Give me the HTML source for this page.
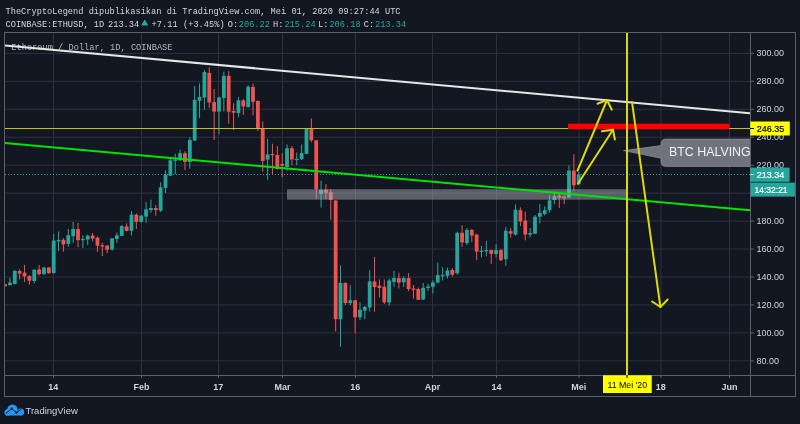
<!DOCTYPE html><html><head><meta charset="utf-8"><style>html,body{margin:0;padding:0;background:#131722;width:800px;height:424px;overflow:hidden}svg{display:block;will-change:transform}</style></head><body><svg width="800" height="424" viewBox="0 0 800 424"><rect x="0" y="0" width="800" height="424" fill="#131722"/><defs><clipPath id="cp"><rect x="5" y="33" width="745" height="342"/></clipPath></defs><g stroke="#2d3140" stroke-width="1"><line x1="5" y1="53.40" x2="750" y2="53.40"/><line x1="5" y1="81.35" x2="750" y2="81.35"/><line x1="5" y1="109.30" x2="750" y2="109.30"/><line x1="5" y1="137.25" x2="750" y2="137.25"/><line x1="5" y1="165.20" x2="750" y2="165.20"/><line x1="5" y1="193.15" x2="750" y2="193.15"/><line x1="5" y1="221.10" x2="750" y2="221.10"/><line x1="5" y1="249.05" x2="750" y2="249.05"/><line x1="5" y1="277.00" x2="750" y2="277.00"/><line x1="5" y1="304.95" x2="750" y2="304.95"/><line x1="5" y1="332.90" x2="750" y2="332.90"/><line x1="5" y1="360.85" x2="750" y2="360.85"/><line x1="53.50" y1="33" x2="53.50" y2="375"/><line x1="141.50" y1="33" x2="141.50" y2="375"/><line x1="218.50" y1="33" x2="218.50" y2="375"/><line x1="282.50" y1="33" x2="282.50" y2="375"/><line x1="355.50" y1="33" x2="355.50" y2="375"/><line x1="432.50" y1="33" x2="432.50" y2="375"/><line x1="496.50" y1="33" x2="496.50" y2="375"/><line x1="579.00" y1="33" x2="579.00" y2="375"/><line x1="660.90" y1="33" x2="660.90" y2="375"/><line x1="729.50" y1="33" x2="729.50" y2="375"/></g><text x="11.3" y="50.5" font-family="Liberation Mono" font-size="8.67" fill="#b2b5be" transform="translate(0,50.5) scale(1,1.1) translate(0,-50.5)">Ethereum / Dollar, 1D, COINBASE</text><line x1="5" y1="174.5" x2="750" y2="174.5" stroke="#26a69a" stroke-width="1" stroke-dasharray="1 2"/><g clip-path="url(#cp)"><rect x="4.59" y="284.00" width="1" height="2.50" fill="#ef5350"/><rect x="3.19" y="284.30" width="3.8" height="1.90" fill="#ef5350"/><rect x="9.45" y="277.80" width="1" height="7.40" fill="#26a69a"/><rect x="8.05" y="282.70" width="3.8" height="2.50" fill="#26a69a"/><rect x="14.31" y="270.30" width="1" height="14.20" fill="#26a69a"/><rect x="12.91" y="270.80" width="3.8" height="13.20" fill="#26a69a"/><rect x="19.17" y="269.50" width="1" height="9.90" fill="#ef5350"/><rect x="17.77" y="271.00" width="3.8" height="2.60" fill="#ef5350"/><rect x="24.03" y="264.90" width="1" height="17.00" fill="#ef5350"/><rect x="22.63" y="272.80" width="3.8" height="3.60" fill="#ef5350"/><rect x="28.89" y="275.30" width="1" height="9.40" fill="#ef5350"/><rect x="27.49" y="276.00" width="3.8" height="4.70" fill="#ef5350"/><rect x="33.75" y="269.20" width="1" height="14.30" fill="#26a69a"/><rect x="32.35" y="269.80" width="3.8" height="11.20" fill="#26a69a"/><rect x="38.62" y="264.90" width="1" height="10.40" fill="#ef5350"/><rect x="37.22" y="269.50" width="3.8" height="4.60" fill="#ef5350"/><rect x="43.48" y="267.00" width="1" height="8.00" fill="#26a69a"/><rect x="42.08" y="267.50" width="3.8" height="6.60" fill="#26a69a"/><rect x="48.34" y="267.00" width="1" height="7.00" fill="#ef5350"/><rect x="46.94" y="267.50" width="3.8" height="5.60" fill="#ef5350"/><rect x="53.20" y="234.00" width="1" height="39.50" fill="#26a69a"/><rect x="51.80" y="240.60" width="3.8" height="32.50" fill="#26a69a"/><rect x="58.06" y="231.60" width="1" height="19.40" fill="#26a69a"/><rect x="56.66" y="240.10" width="3.8" height="1.40" fill="#26a69a"/><rect x="62.92" y="238.20" width="1" height="13.50" fill="#ef5350"/><rect x="61.52" y="239.80" width="3.8" height="4.60" fill="#ef5350"/><rect x="67.78" y="229.00" width="1" height="17.70" fill="#26a69a"/><rect x="66.38" y="235.20" width="3.8" height="8.70" fill="#26a69a"/><rect x="72.65" y="222.00" width="1" height="20.80" fill="#26a69a"/><rect x="71.25" y="229.00" width="3.8" height="7.20" fill="#26a69a"/><rect x="77.51" y="223.00" width="1" height="24.20" fill="#ef5350"/><rect x="76.11" y="229.00" width="3.8" height="11.10" fill="#ef5350"/><rect x="82.37" y="235.20" width="1" height="12.80" fill="#26a69a"/><rect x="80.97" y="239.00" width="3.8" height="1.20" fill="#26a69a"/><rect x="87.23" y="234.50" width="1" height="10.50" fill="#26a69a"/><rect x="85.83" y="235.70" width="3.8" height="3.80" fill="#26a69a"/><rect x="92.09" y="233.10" width="1" height="8.30" fill="#ef5350"/><rect x="90.69" y="235.50" width="3.8" height="3.10" fill="#ef5350"/><rect x="96.95" y="236.50" width="1" height="15.30" fill="#ef5350"/><rect x="95.55" y="237.70" width="3.8" height="8.00" fill="#ef5350"/><rect x="101.81" y="242.80" width="1" height="13.20" fill="#ef5350"/><rect x="100.41" y="245.20" width="3.8" height="1.40" fill="#ef5350"/><rect x="106.68" y="245.00" width="1" height="8.20" fill="#ef5350"/><rect x="105.28" y="245.70" width="3.8" height="4.00" fill="#ef5350"/><rect x="111.54" y="238.00" width="1" height="12.70" fill="#26a69a"/><rect x="110.14" y="238.40" width="3.8" height="11.00" fill="#26a69a"/><rect x="116.40" y="232.50" width="1" height="10.30" fill="#26a69a"/><rect x="115.00" y="235.30" width="3.8" height="3.70" fill="#26a69a"/><rect x="121.26" y="225.00" width="1" height="11.00" fill="#26a69a"/><rect x="119.86" y="226.10" width="3.8" height="9.80" fill="#26a69a"/><rect x="126.12" y="223.30" width="1" height="8.00" fill="#ef5350"/><rect x="124.72" y="226.40" width="3.8" height="4.40" fill="#ef5350"/><rect x="130.98" y="211.00" width="1" height="24.50" fill="#26a69a"/><rect x="129.58" y="214.70" width="3.8" height="16.10" fill="#26a69a"/><rect x="135.84" y="213.40" width="1" height="15.50" fill="#ef5350"/><rect x="134.44" y="214.70" width="3.8" height="7.20" fill="#ef5350"/><rect x="140.71" y="215.00" width="1" height="7.60" fill="#26a69a"/><rect x="139.31" y="215.70" width="3.8" height="6.20" fill="#26a69a"/><rect x="145.57" y="201.90" width="1" height="20.70" fill="#26a69a"/><rect x="144.17" y="209.40" width="3.8" height="7.20" fill="#26a69a"/><rect x="150.43" y="199.60" width="1" height="13.20" fill="#26a69a"/><rect x="149.03" y="208.00" width="3.8" height="2.00" fill="#26a69a"/><rect x="155.29" y="204.90" width="1" height="10.80" fill="#ef5350"/><rect x="153.89" y="208.00" width="3.8" height="2.00" fill="#ef5350"/><rect x="160.15" y="182.30" width="1" height="29.60" fill="#26a69a"/><rect x="158.75" y="187.40" width="3.8" height="23.20" fill="#26a69a"/><rect x="165.01" y="170.30" width="1" height="22.70" fill="#26a69a"/><rect x="163.61" y="174.70" width="3.8" height="13.20" fill="#26a69a"/><rect x="169.87" y="158.70" width="1" height="17.30" fill="#26a69a"/><rect x="168.47" y="160.30" width="3.8" height="15.40" fill="#26a69a"/><rect x="174.74" y="153.70" width="1" height="20.70" fill="#26a69a"/><rect x="173.34" y="159.50" width="3.8" height="1.30" fill="#26a69a"/><rect x="179.60" y="149.60" width="1" height="11.40" fill="#26a69a"/><rect x="178.20" y="153.20" width="3.8" height="7.10" fill="#26a69a"/><rect x="184.46" y="151.30" width="1" height="18.90" fill="#ef5350"/><rect x="183.06" y="153.20" width="3.8" height="8.80" fill="#ef5350"/><rect x="189.32" y="137.20" width="1" height="31.40" fill="#26a69a"/><rect x="187.92" y="140.00" width="3.8" height="22.00" fill="#26a69a"/><rect x="194.18" y="86.10" width="1" height="54.90" fill="#26a69a"/><rect x="192.78" y="99.90" width="3.8" height="40.60" fill="#26a69a"/><rect x="199.04" y="83.30" width="1" height="34.90" fill="#26a69a"/><rect x="197.64" y="96.90" width="3.8" height="3.80" fill="#26a69a"/><rect x="203.90" y="70.10" width="1" height="39.60" fill="#26a69a"/><rect x="202.50" y="72.00" width="3.8" height="25.50" fill="#26a69a"/><rect x="208.76" y="67.30" width="1" height="40.50" fill="#ef5350"/><rect x="207.36" y="72.90" width="3.8" height="29.60" fill="#ef5350"/><rect x="213.63" y="89.00" width="1" height="51.00" fill="#ef5350"/><rect x="212.23" y="102.20" width="3.8" height="9.40" fill="#ef5350"/><rect x="218.49" y="96.50" width="1" height="37.50" fill="#26a69a"/><rect x="217.09" y="97.50" width="3.8" height="14.10" fill="#26a69a"/><rect x="223.35" y="71.60" width="1" height="40.00" fill="#26a69a"/><rect x="221.95" y="75.80" width="3.8" height="22.20" fill="#26a69a"/><rect x="228.21" y="71.10" width="1" height="52.60" fill="#ef5350"/><rect x="226.81" y="75.90" width="3.8" height="35.80" fill="#ef5350"/><rect x="233.07" y="103.20" width="1" height="26.80" fill="#ef5350"/><rect x="231.67" y="111.00" width="3.8" height="1.70" fill="#ef5350"/><rect x="237.93" y="96.90" width="1" height="20.50" fill="#26a69a"/><rect x="236.53" y="100.40" width="3.8" height="12.70" fill="#26a69a"/><rect x="242.79" y="99.00" width="1" height="16.00" fill="#ef5350"/><rect x="241.39" y="100.40" width="3.8" height="6.10" fill="#ef5350"/><rect x="247.66" y="85.30" width="1" height="22.20" fill="#26a69a"/><rect x="246.26" y="86.70" width="3.8" height="20.40" fill="#26a69a"/><rect x="252.52" y="83.40" width="1" height="31.90" fill="#ef5350"/><rect x="251.12" y="87.00" width="3.8" height="14.80" fill="#ef5350"/><rect x="257.38" y="100.30" width="1" height="30.50" fill="#ef5350"/><rect x="255.98" y="101.00" width="3.8" height="28.00" fill="#ef5350"/><rect x="262.24" y="121.40" width="1" height="50.30" fill="#ef5350"/><rect x="260.84" y="128.60" width="3.8" height="32.40" fill="#ef5350"/><rect x="267.10" y="138.80" width="1" height="41.00" fill="#26a69a"/><rect x="265.70" y="154.40" width="3.8" height="5.10" fill="#26a69a"/><rect x="271.96" y="143.70" width="1" height="30.80" fill="#ef5350"/><rect x="270.56" y="154.00" width="3.8" height="1.20" fill="#ef5350"/><rect x="276.82" y="146.00" width="1" height="23.50" fill="#ef5350"/><rect x="275.42" y="155.00" width="3.8" height="13.90" fill="#ef5350"/><rect x="281.69" y="153.30" width="1" height="23.80" fill="#ef5350"/><rect x="280.29" y="164.00" width="3.8" height="1.50" fill="#ef5350"/><rect x="286.55" y="144.40" width="1" height="26.40" fill="#26a69a"/><rect x="285.15" y="148.20" width="3.8" height="18.80" fill="#26a69a"/><rect x="291.41" y="146.00" width="1" height="19.00" fill="#ef5350"/><rect x="290.01" y="148.20" width="3.8" height="11.20" fill="#ef5350"/><rect x="296.27" y="152.50" width="1" height="12.50" fill="#26a69a"/><rect x="294.87" y="158.80" width="3.8" height="1.30" fill="#26a69a"/><rect x="301.13" y="144.40" width="1" height="15.70" fill="#26a69a"/><rect x="299.73" y="153.10" width="3.8" height="6.10" fill="#26a69a"/><rect x="305.99" y="128.60" width="1" height="25.40" fill="#26a69a"/><rect x="304.59" y="129.00" width="3.8" height="24.90" fill="#26a69a"/><rect x="310.85" y="118.60" width="1" height="23.60" fill="#ef5350"/><rect x="309.45" y="129.00" width="3.8" height="11.30" fill="#ef5350"/><rect x="315.72" y="140.00" width="1" height="58.70" fill="#ef5350"/><rect x="314.32" y="140.30" width="3.8" height="48.90" fill="#ef5350"/><rect x="320.58" y="180.70" width="1" height="26.80" fill="#26a69a"/><rect x="319.18" y="190.00" width="3.8" height="3.90" fill="#26a69a"/><rect x="325.44" y="184.00" width="1" height="15.20" fill="#ef5350"/><rect x="324.04" y="189.70" width="3.8" height="3.20" fill="#ef5350"/><rect x="330.30" y="189.20" width="1" height="30.70" fill="#ef5350"/><rect x="328.90" y="192.40" width="3.8" height="7.50" fill="#ef5350"/><rect x="335.16" y="200.00" width="1" height="131.50" fill="#ef5350"/><rect x="333.76" y="200.50" width="3.8" height="118.70" fill="#ef5350"/><rect x="340.02" y="265.40" width="1" height="81.40" fill="#26a69a"/><rect x="338.62" y="282.90" width="3.8" height="36.30" fill="#26a69a"/><rect x="344.88" y="282.40" width="1" height="22.60" fill="#ef5350"/><rect x="343.48" y="282.90" width="3.8" height="20.20" fill="#ef5350"/><rect x="349.75" y="285.20" width="1" height="19.80" fill="#26a69a"/><rect x="348.35" y="300.30" width="3.8" height="2.80" fill="#26a69a"/><rect x="354.61" y="300.00" width="1" height="33.30" fill="#ef5350"/><rect x="353.21" y="300.30" width="3.8" height="17.00" fill="#ef5350"/><rect x="359.47" y="302.20" width="1" height="17.90" fill="#26a69a"/><rect x="358.07" y="309.70" width="3.8" height="7.60" fill="#26a69a"/><rect x="364.33" y="306.00" width="1" height="13.20" fill="#26a69a"/><rect x="362.93" y="306.90" width="3.8" height="3.80" fill="#26a69a"/><rect x="369.19" y="270.10" width="1" height="41.50" fill="#26a69a"/><rect x="367.79" y="281.40" width="3.8" height="26.10" fill="#26a69a"/><rect x="374.05" y="256.90" width="1" height="54.70" fill="#ef5350"/><rect x="372.65" y="281.40" width="3.8" height="5.70" fill="#ef5350"/><rect x="378.91" y="279.50" width="1" height="18.00" fill="#ef5350"/><rect x="377.51" y="285.60" width="3.8" height="2.40" fill="#ef5350"/><rect x="383.78" y="279.50" width="1" height="24.50" fill="#ef5350"/><rect x="382.38" y="286.70" width="3.8" height="15.50" fill="#ef5350"/><rect x="388.64" y="278.60" width="1" height="27.20" fill="#26a69a"/><rect x="387.24" y="280.50" width="3.8" height="22.00" fill="#26a69a"/><rect x="393.50" y="270.90" width="1" height="15.90" fill="#26a69a"/><rect x="392.10" y="278.10" width="3.8" height="3.80" fill="#26a69a"/><rect x="398.36" y="272.80" width="1" height="15.70" fill="#ef5350"/><rect x="396.96" y="278.10" width="3.8" height="4.50" fill="#ef5350"/><rect x="403.22" y="276.20" width="1" height="10.80" fill="#26a69a"/><rect x="401.82" y="278.10" width="3.8" height="4.20" fill="#26a69a"/><rect x="408.08" y="273.20" width="1" height="18.00" fill="#ef5350"/><rect x="406.68" y="278.10" width="3.8" height="10.90" fill="#ef5350"/><rect x="412.94" y="285.00" width="1" height="13.80" fill="#ef5350"/><rect x="411.54" y="288.50" width="3.8" height="1.30" fill="#ef5350"/><rect x="417.80" y="287.50" width="1" height="12.50" fill="#ef5350"/><rect x="416.40" y="289.00" width="3.8" height="10.80" fill="#ef5350"/><rect x="422.67" y="283.00" width="1" height="17.00" fill="#26a69a"/><rect x="421.27" y="287.80" width="3.8" height="11.70" fill="#26a69a"/><rect x="427.53" y="283.80" width="1" height="7.00" fill="#26a69a"/><rect x="426.13" y="286.50" width="3.8" height="1.50" fill="#26a69a"/><rect x="432.39" y="280.40" width="1" height="13.10" fill="#26a69a"/><rect x="430.99" y="282.50" width="3.8" height="4.30" fill="#26a69a"/><rect x="437.25" y="262.50" width="1" height="21.00" fill="#26a69a"/><rect x="435.85" y="275.10" width="3.8" height="7.40" fill="#26a69a"/><rect x="442.11" y="267.20" width="1" height="13.20" fill="#26a69a"/><rect x="440.71" y="275.10" width="3.8" height="1.20" fill="#26a69a"/><rect x="446.97" y="267.50" width="1" height="11.00" fill="#26a69a"/><rect x="445.57" y="270.60" width="3.8" height="5.10" fill="#26a69a"/><rect x="451.83" y="268.10" width="1" height="8.50" fill="#ef5350"/><rect x="450.43" y="270.00" width="3.8" height="4.70" fill="#ef5350"/><rect x="456.70" y="231.70" width="1" height="43.00" fill="#26a69a"/><rect x="455.30" y="232.80" width="3.8" height="40.40" fill="#26a69a"/><rect x="461.56" y="225.30" width="1" height="21.70" fill="#ef5350"/><rect x="460.16" y="232.80" width="3.8" height="9.60" fill="#ef5350"/><rect x="466.42" y="228.00" width="1" height="17.00" fill="#26a69a"/><rect x="465.02" y="229.90" width="3.8" height="13.20" fill="#26a69a"/><rect x="471.28" y="229.00" width="1" height="13.20" fill="#ef5350"/><rect x="469.88" y="229.90" width="3.8" height="5.70" fill="#ef5350"/><rect x="476.14" y="233.70" width="1" height="26.40" fill="#ef5350"/><rect x="474.74" y="234.60" width="3.8" height="17.00" fill="#ef5350"/><rect x="481.00" y="246.00" width="1" height="11.30" fill="#26a69a"/><rect x="479.60" y="250.70" width="3.8" height="1.30" fill="#26a69a"/><rect x="485.86" y="240.80" width="1" height="15.50" fill="#26a69a"/><rect x="484.46" y="250.10" width="3.8" height="1.20" fill="#26a69a"/><rect x="490.73" y="249.70" width="1" height="14.20" fill="#ef5350"/><rect x="489.33" y="250.10" width="3.8" height="3.80" fill="#ef5350"/><rect x="495.59" y="244.40" width="1" height="12.90" fill="#26a69a"/><rect x="494.19" y="250.10" width="3.8" height="3.80" fill="#26a69a"/><rect x="500.45" y="248.80" width="1" height="12.20" fill="#ef5350"/><rect x="499.05" y="250.10" width="3.8" height="10.00" fill="#ef5350"/><rect x="505.31" y="227.10" width="1" height="38.70" fill="#26a69a"/><rect x="503.91" y="230.80" width="3.8" height="28.40" fill="#26a69a"/><rect x="510.17" y="228.00" width="1" height="9.50" fill="#ef5350"/><rect x="508.77" y="231.20" width="3.8" height="2.50" fill="#ef5350"/><rect x="515.03" y="204.40" width="1" height="31.20" fill="#26a69a"/><rect x="513.63" y="209.70" width="3.8" height="24.90" fill="#26a69a"/><rect x="519.89" y="207.30" width="1" height="18.80" fill="#ef5350"/><rect x="518.49" y="210.10" width="3.8" height="11.30" fill="#ef5350"/><rect x="524.76" y="211.60" width="1" height="28.70" fill="#ef5350"/><rect x="523.36" y="220.50" width="3.8" height="14.10" fill="#ef5350"/><rect x="529.62" y="228.00" width="1" height="9.50" fill="#26a69a"/><rect x="528.22" y="233.10" width="3.8" height="1.50" fill="#26a69a"/><rect x="534.48" y="215.00" width="1" height="19.00" fill="#26a69a"/><rect x="533.08" y="216.70" width="3.8" height="17.00" fill="#26a69a"/><rect x="539.34" y="204.00" width="1" height="19.30" fill="#26a69a"/><rect x="537.94" y="212.90" width="3.8" height="3.80" fill="#26a69a"/><rect x="544.20" y="206.40" width="1" height="9.10" fill="#26a69a"/><rect x="542.80" y="210.20" width="3.8" height="3.80" fill="#26a69a"/><rect x="549.06" y="195.10" width="1" height="17.50" fill="#26a69a"/><rect x="547.66" y="200.40" width="3.8" height="9.80" fill="#26a69a"/><rect x="553.92" y="193.80" width="1" height="10.40" fill="#26a69a"/><rect x="552.52" y="196.20" width="3.8" height="3.80" fill="#26a69a"/><rect x="558.79" y="193.80" width="1" height="14.10" fill="#ef5350"/><rect x="557.39" y="195.70" width="3.8" height="1.80" fill="#ef5350"/><rect x="563.65" y="195.70" width="1" height="8.50" fill="#ef5350"/><rect x="562.25" y="196.60" width="3.8" height="1.50" fill="#ef5350"/><rect x="568.51" y="165.50" width="1" height="32.60" fill="#26a69a"/><rect x="567.11" y="170.60" width="3.8" height="26.90" fill="#26a69a"/><rect x="573.37" y="154.20" width="1" height="36.80" fill="#ef5350"/><rect x="571.97" y="170.60" width="3.8" height="14.70" fill="#ef5350"/><rect x="578.23" y="171.70" width="1" height="12.70" fill="#26a69a"/><rect x="576.83" y="174.30" width="3.8" height="10.00" fill="#26a69a"/><rect x="287" y="189.2" width="340" height="10.5" fill="#b2b5be" fill-opacity="0.45"/><line x1="5" y1="45.6" x2="750" y2="113.2" stroke="#e6e6e6" stroke-width="2"/><line x1="5" y1="143.1" x2="750" y2="210.3" stroke="#00e600" stroke-width="2"/><line x1="5" y1="128.5" x2="750" y2="128.5" stroke="#c4c014" stroke-width="1"/><rect x="568" y="123.7" width="161.5" height="5.6" fill="#ff0000"/><path d="M623.5,150.6 L661,145.6 L661,144 Q661,139.1 666,139.1 L760,139.1 L760,166.4 L666,166.4 Q661,166.4 661,161.5 L661,158.3 Z" fill="#787b86" fill-opacity="0.92" stroke="#9a9da6" stroke-opacity="0.6" stroke-width="1"/><text x="669" y="155.8" font-family="Liberation Sans" font-size="12.4" fill="#f0f0f0">BTC HALVING</text><line x1="627" y1="33" x2="627" y2="375" stroke="#dcd90a" stroke-width="2"/><g stroke="#dcd90a" stroke-width="2" fill="none" stroke-linecap="round" stroke-linejoin="round"><polyline points="577.5,170.7 607,100"/><polyline points="597.5,103.7 607,100 611.8,109.7"/><polyline points="578,183.7 613,129.7"/><polyline points="601.9,131.2 613,129.7 614.9,139.5"/><polyline points="632,101.9 660.4,307"/><polyline points="652.1,301.5 660.4,307 667.7,299.5"/></g></g><g stroke="#5d606b" stroke-width="1" fill="none"><rect x="4.5" y="32.5" width="791" height="364"/><line x1="750.5" y1="32.5" x2="750.5" y2="396.5"/><line x1="4.5" y1="375.5" x2="795.5" y2="375.5"/><line x1="750.5" y1="53.40" x2="754" y2="53.40"/><line x1="750.5" y1="81.35" x2="754" y2="81.35"/><line x1="750.5" y1="109.30" x2="754" y2="109.30"/><line x1="750.5" y1="137.25" x2="754" y2="137.25"/><line x1="750.5" y1="165.20" x2="754" y2="165.20"/><line x1="750.5" y1="193.15" x2="754" y2="193.15"/><line x1="750.5" y1="221.10" x2="754" y2="221.10"/><line x1="750.5" y1="249.05" x2="754" y2="249.05"/><line x1="750.5" y1="277.00" x2="754" y2="277.00"/><line x1="750.5" y1="304.95" x2="754" y2="304.95"/><line x1="750.5" y1="332.90" x2="754" y2="332.90"/><line x1="750.5" y1="360.85" x2="754" y2="360.85"/><line x1="53.50" y1="375.5" x2="53.50" y2="378" /><line x1="141.50" y1="375.5" x2="141.50" y2="378" /><line x1="218.50" y1="375.5" x2="218.50" y2="378" /><line x1="282.50" y1="375.5" x2="282.50" y2="378" /><line x1="355.50" y1="375.5" x2="355.50" y2="378" /><line x1="432.50" y1="375.5" x2="432.50" y2="378" /><line x1="496.50" y1="375.5" x2="496.50" y2="378" /><line x1="579.00" y1="375.5" x2="579.00" y2="378" /><line x1="660.90" y1="375.5" x2="660.90" y2="378" /><line x1="729.50" y1="375.5" x2="729.50" y2="378" /></g><g font-family="Liberation Sans" font-size="9" fill="#d1d4dc"><text x="756.4" y="56.3">300.00</text><text x="756.4" y="84.2">280.00</text><text x="756.4" y="112.2">260.00</text><text x="756.4" y="140.2">240.00</text><text x="756.4" y="168.1">220.00</text><text x="756.4" y="196.1">200.00</text><text x="756.4" y="224.0">180.00</text><text x="756.4" y="252.0">160.00</text><text x="756.4" y="279.9">140.00</text><text x="756.4" y="307.9">120.00</text><text x="756.4" y="335.8">100.00</text><text x="756.4" y="363.8">80.00</text></g><rect x="750.3" y="121.5" width="39.5" height="14" fill="#ffff00"/><line x1="750" y1="128.5" x2="754" y2="128.5" stroke="#000" stroke-width="1"/><text x="756.8" y="131.9" font-family="Liberation Sans" font-size="9" fill="#000" stroke="#000" stroke-width="0.2">246.35</text><rect x="750.1" y="167.6" width="39.5" height="14.2" fill="#26a69a"/><line x1="750.5" y1="174.5" x2="753.5" y2="174.5" stroke="#fff" stroke-width="1"/><text x="756.7" y="177.7" font-family="Liberation Sans" font-size="9" fill="#fff" stroke="#fff" stroke-width="0.2">213.34</text><rect x="750.5" y="182.6" width="44.4" height="14" fill="#26a69a"/><text x="754.6" y="192.9" font-family="Liberation Sans" font-size="9" fill="#fff" stroke="#fff" stroke-width="0.2" textLength="33" lengthAdjust="spacingAndGlyphs">14:32:21</text><g font-family="Liberation Sans" font-weight="bold" font-size="9" fill="#d1d4dc"><text x="53.3" y="389.7" text-anchor="middle">14</text><text x="141.5" y="389.7" text-anchor="middle">Feb</text><text x="218.3" y="389.7" text-anchor="middle">17</text><text x="282.5" y="389.7" text-anchor="middle">Mar</text><text x="355.3" y="389.7" text-anchor="middle">16</text><text x="432.5" y="389.7" text-anchor="middle">Apr</text><text x="496.5" y="389.7" text-anchor="middle">14</text><text x="578.7" y="389.7" text-anchor="middle">Mei</text><text x="660.8" y="389.7" text-anchor="middle">18</text><text x="729.5" y="389.7" text-anchor="middle">Jun</text></g><rect x="603" y="375.3" width="48.75" height="17.7" fill="#ffff00"/><line x1="627" y1="375" x2="627" y2="378" stroke="#000" stroke-width="1"/><text x="627.3" y="387.7" text-anchor="middle" font-family="Liberation Sans" font-size="8.8" fill="#000">11 Mei '20</text><g font-family="Liberation Mono" font-size="8.67" fill="#d1d4dc"><g transform="translate(0,13.7) scale(1,1.08) translate(0,-13.7)"><text x="5.5" y="13.7">TheCryptoLegend dipublikasikan di TradingView.com, Mei 01, 2020 09:27:44 UTC</text></g><g transform="translate(0,26.8) scale(1,1.08) translate(0,-26.8)"><text x="5.5" y="26.8">COINBASE:ETHUSD, 1D</text><text x="108" y="26.8">213.34</text><text x="151.6" y="26.8">+7.11</text><text x="183" y="26.8">(+3.45%)</text><text x="227.75" y="26.8">O:</text><text x="238.75" y="26.8" fill="#26a69a">206.22</text><text x="273.1" y="26.8">H:</text><text x="284.4" y="26.8" fill="#26a69a">215.24</text><text x="318.1" y="26.8">L:</text><text x="329.4" y="26.8" fill="#26a69a">206.18</text><text x="363.7" y="26.8">C:</text><text x="375" y="26.8" fill="#26a69a">213.34</text></g></g><path d="M141,25.4 L144.7,19.4 L148.4,25.4 Z" fill="#26a69a"/><defs><clipPath id="lc"><rect x="0" y="400" width="30" height="15.6"/></clipPath></defs><g clip-path="url(#lc)" fill="#2196f3"><circle cx="8" cy="412.5" r="3.6"/><circle cx="12.4" cy="409.7" r="5.2"/><circle cx="20.7" cy="412" r="3.5"/><rect x="6" y="411" width="16" height="5"/></g><polyline points="5.8,413.4 11.7,408.7 16.4,412.7 21.3,409.2" fill="none" stroke="#131722" stroke-width="1"/><circle cx="11.7" cy="408.7" r="1.1" fill="#131722"/><circle cx="16.4" cy="412.7" r="1.1" fill="#131722"/><text x="25.5" y="413.5" font-family="Liberation Sans" font-size="9.5" fill="#d1d4dc">TradingView</text></svg></body></html>
